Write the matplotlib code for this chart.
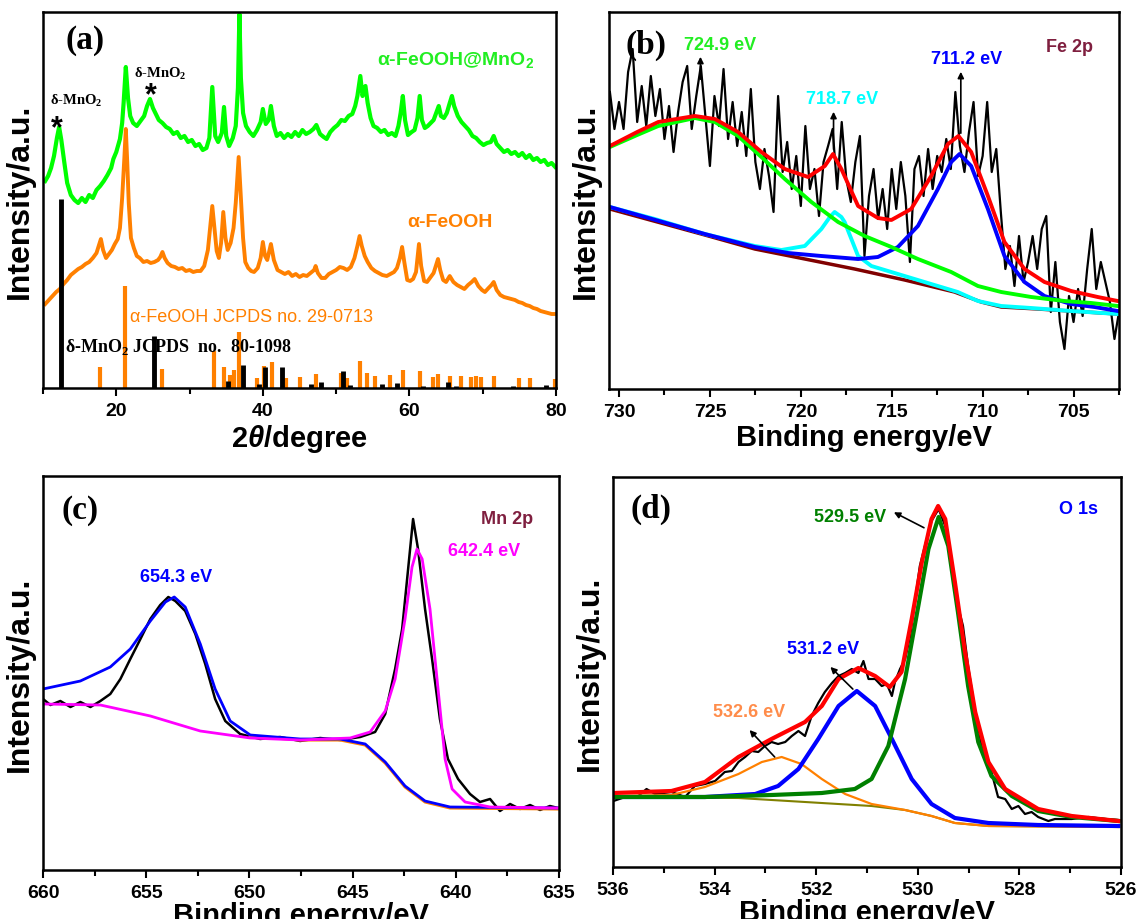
import matplotlib
matplotlib.use("Agg")
import matplotlib.pyplot as plt
from matplotlib.ticker import FixedLocator

plt.rcParams['font.family'] = ['Liberation Sans', 'DejaVu Sans']
plt.rcParams['mathtext.fontset'] = 'custom'
plt.rcParams['mathtext.rm'] = 'Liberation Serif:bold'
plt.rcParams['mathtext.sf'] = 'Liberation Sans:bold'
plt.rcParams['mathtext.it'] = 'Liberation Sans:italic:bold'

# ---------------- (a) XRD ----------------
xrd_mno2 = [
    (10.3, 207), (10.7, 212), (11.1, 220), (11.5, 232), (11.9, 250), (12.2, 261), (12.5, 248),
    (12.9, 226), (13.3, 205), (13.8, 193), (14.3, 188), (14.8, 185), (15.3, 190), (15.8, 186),
    (16.3, 193), (16.8, 190), (17.3, 198), (17.8, 202), (18.3, 207), (18.8, 213), (19.3, 220),
    (19.6, 229), (20.0, 236), (20.5, 249), (20.8, 265), (21.0, 285), (21.3, 321), (21.6, 290),
    (21.9, 272), (22.3, 265), (22.8, 262), (23.3, 267), (23.8, 272), (24.2, 282), (24.6, 289),
    (25.0, 280), (25.4, 274), (25.8, 268), (26.3, 265), (26.8, 261), (27.3, 259), (27.8, 254),
    (28.3, 256), (28.8, 250), (29.3, 252), (29.8, 246), (30.3, 248), (30.8, 242), (31.3, 244),
    (31.8, 238), (32.3, 240), (32.7, 250), (33.1, 301), (33.5, 252), (33.9, 246), (34.4, 255),
    (34.7, 281), (35.0, 252), (35.4, 242), (35.9, 250), (36.3, 262), (36.6, 300), (36.8, 374),
    (37.0, 310), (37.3, 275), (37.7, 262), (38.2, 256), (38.7, 252), (39.2, 258), (39.7, 266),
    (40.0, 279), (40.4, 264), (40.8, 268), (41.1, 282), (41.5, 262), (41.9, 252), (42.4, 255),
    (42.9, 250), (43.4, 254), (43.9, 251), (44.4, 256), (44.9, 252), (45.4, 258), (45.9, 254),
    (46.4, 256), (46.9, 259), (47.3, 263), (47.8, 254), (48.3, 251), (48.7, 249), (49.2, 256),
    (49.7, 260), (50.2, 263), (50.7, 268), (51.2, 267), (51.7, 272), (52.2, 274), (52.6, 282),
    (52.9, 292), (53.3, 312), (53.6, 292), (54.0, 302), (54.3, 285), (54.7, 270), (55.1, 262),
    (55.6, 260), (56.1, 256), (56.6, 258), (57.1, 253), (57.6, 255), (58.1, 252), (58.5, 262),
    (58.8, 275), (59.1, 292), (59.4, 268), (59.8, 253), (60.3, 256), (60.7, 258), (61.1, 270),
    (61.4, 292), (61.7, 268), (62.1, 260), (62.5, 262), (62.9, 265), (63.3, 268), (63.7, 276),
    (64.0, 282), (64.3, 272), (64.7, 270), (65.1, 275), (65.5, 285), (65.8, 292), (66.1, 282),
    (66.6, 272), (67.1, 266), (67.6, 262), (68.1, 258), (68.6, 252), (69.1, 250), (69.6, 246),
    (70.1, 243), (70.6, 245), (71.1, 246), (71.5, 252), (71.9, 244), (72.4, 240), (72.9, 236),
    (73.4, 238), (73.9, 234), (74.4, 236), (74.9, 232), (75.4, 235), (75.9, 230), (76.4, 233),
    (76.9, 228), (77.4, 230), (77.9, 226), (78.4, 228), (78.9, 223), (79.4, 225), (79.9, 221)]
xrd_mno2_x = [p[0] for p in xrd_mno2]
xrd_mno2_y = [p[1] for p in xrd_mno2]

xrd_feooh = [
    (10.3, 84), (10.8, 88), (11.3, 92), (11.8, 96), (12.3, 99), (12.8, 104), (13.3, 108),
    (13.8, 113), (14.3, 116), (14.8, 119), (15.3, 121), (15.8, 124), (16.3, 126), (16.8, 130),
    (17.3, 135), (17.6, 142), (17.9, 149), (18.2, 138), (18.6, 130), (19.0, 134), (19.4, 138),
    (19.8, 144), (20.2, 149), (20.5, 160), (20.8, 190), (21.1, 230), (21.3, 259), (21.5, 225),
    (21.7, 185), (22.0, 150), (22.4, 140), (22.8, 132), (23.2, 130), (23.7, 126), (24.2, 127),
    (24.7, 125), (25.2, 126), (25.7, 128), (26.0, 131), (26.3, 136), (26.6, 130), (27.0, 125),
    (27.5, 122), (28.0, 121), (28.5, 119), (29.0, 120), (29.5, 117), (30.0, 118), (30.5, 116),
    (31.0, 117), (31.5, 117), (32.0, 122), (32.5, 138), (32.8, 160), (33.1, 182), (33.4, 160),
    (33.7, 137), (34.0, 130), (34.3, 145), (34.6, 176), (34.9, 150), (35.2, 138), (35.6, 145),
    (36.0, 160), (36.3, 185), (36.7, 231), (37.0, 190), (37.3, 150), (37.6, 126), (38.0, 120),
    (38.4, 117), (38.8, 116), (39.3, 120), (39.7, 130), (40.0, 146), (40.3, 132), (40.6, 128),
    (41.1, 144), (41.5, 128), (42.0, 118), (42.5, 116), (43.0, 114), (43.5, 116), (44.0, 112),
    (44.5, 114), (45.0, 111), (45.5, 113), (46.0, 112), (46.5, 115), (47.0, 118), (47.2, 122),
    (47.5, 115), (48.0, 110), (48.5, 110), (49.0, 114), (49.5, 116), (50.0, 118), (50.5, 121),
    (51.0, 120), (51.5, 118), (52.0, 121), (52.5, 130), (52.9, 142), (53.2, 152), (53.5, 142),
    (53.9, 132), (54.3, 126), (54.8, 120), (55.3, 117), (55.8, 115), (56.3, 113), (56.9, 112),
    (57.4, 114), (57.9, 116), (58.3, 120), (58.7, 130), (59.0, 141), (59.3, 126), (59.7, 108),
    (60.1, 107), (60.5, 109), (60.9, 116), (61.3, 144), (61.6, 122), (62.0, 107), (62.4, 106),
    (62.8, 110), (63.3, 115), (63.6, 122), (63.9, 129), (64.2, 118), (64.6, 108), (65.0, 106),
    (65.5, 112), (66.0, 106), (66.5, 103), (67.0, 101), (67.5, 99), (68.0, 103), (68.5, 106),
    (68.9, 109), (69.4, 102), (69.9, 98), (70.3, 96), (70.8, 100), (71.2, 103), (71.5, 106),
    (71.9, 98), (72.4, 93), (72.9, 91), (73.4, 90), (73.9, 89), (74.4, 88), (74.9, 86),
    (75.4, 85), (75.9, 83), (76.4, 82), (76.9, 80), (77.4, 79), (77.9, 77), (78.4, 76),
    (78.9, 75), (79.4, 74), (79.9, 74)]
xrd_feooh_x = [p[0] for p in xrd_feooh]
xrd_feooh_y = [p[1] for p in xrd_feooh]

stick_mno2_x = [12.5, 25.2, 35.3, 37.3, 39.5, 40.3, 42.6, 46.6, 47.9, 51.0, 51.9, 56.2, 58.3,
                61.8, 65.3, 66.4, 74.2, 78.7]
stick_mno2_h = [189, 52, 7, 23, 4, 21, 21, 4, 6, 17, 3, 4, 5, 2, 6, 2, 2, 3]

stick_feooh_x = [17.8, 21.2, 26.3, 33.3, 34.7, 35.5, 36.1, 36.7, 39.2, 40.1, 41.2, 43.2, 45.1,
                 47.3, 50.6, 51.5, 53.2, 54.2, 55.3, 57.3, 59.1, 61.4, 63.2, 63.9, 65.6, 67.1,
                 68.4, 69.1, 69.8, 71.5, 75.0, 76.4, 79.8]
stick_feooh_h = [21, 102, 19, 37, 21, 13, 18, 56, 10, 22, 26, 10, 11,
                 14, 15, 10, 27, 15, 12, 13, 18, 17, 11, 14, 12, 12,
                 11, 12, 11, 12, 10, 10, 9]

# ---------------- (b) Fe 2p ----------------
fe_raw_x = [730.5 - 0.25 * i for i in range(113)]
fe_raw_y = [297, 260, 287, 260, 317, 340, 267, 303, 263, 313, 273, 300, 250, 283, 237, 277,
            307, 323, 260, 293, 323, 273, 223, 293, 263, 320, 250, 287, 243, 277, 233, 300,
            227, 200, 240, 213, 177, 293, 217, 247, 200, 233, 183, 263, 200, 220, 173, 227,
            243, 260, 200, 267, 210, 187, 227, 253, 133, 193, 220, 170, 200, 160, 220, 180,
            227, 193, 127, 220, 233, 193, 240, 200, 233, 217, 250, 220, 297, 243, 217, 257,
            287, 213, 233, 287, 217, 240, 177, 120, 143, 103, 153, 107, 127, 153, 120, 160,
            173, 77, 127, 67, 40, 93, 67, 100, 73, 120, 160, 100, 127, 107, 87, 50, 77]

fe_env_x = [730.50, 729.0, 727.84, 725.83, 724.73, 723.45, 722.17, 720.88, 719.6, 718.68, 718.23,
            717.77, 716.85, 715.76, 715.02, 713.93, 712.83, 711.91, 711.33, 710.63, 709.71,
            708.80, 707.70, 706.60, 705.13, 703.67, 702.57]
fe_env_y = [243, 257, 267, 273, 270, 257, 237, 220, 212, 223, 235, 220, 183, 171, 169, 180,
            213, 245, 253, 237, 193, 147, 120, 107, 98, 92, 88]

fe_p1_x = [730.50, 729.0, 727.84, 725.83, 724.73, 723.45, 722.17, 720.88, 719.42, 717.95,
           716.49, 715.02, 713.56, 711.73, 710.26, 708.98, 707.33, 705.5, 704.03, 702.57]
fe_p1_y = [242, 254, 263, 271, 267, 253, 232, 210, 187, 167, 153, 142, 130, 117, 103, 97,
           92, 88, 86, 83]

fe_p2_x = [730.50, 728.03, 725.28, 722.53, 721.07, 719.78, 718.87, 718.4, 718.14, 717.77,
           717.59, 716.85, 716.12, 714.66, 713.2, 711.37, 710.26, 708.98, 707.33, 705.13, 702.57]
fe_p2_y = [182, 170, 155, 143, 139, 143, 160, 172, 177, 172, 167, 133, 123, 115, 107, 97,
           88, 83, 81, 78, 75]

fe_p3_x = [730.50, 725.28, 722.53, 720.70, 718.87, 716.85, 715.76, 714.66, 713.56, 712.46,
           711.73, 711.27, 710.63, 709.71, 708.80, 707.70, 706.60, 705.13, 703.85, 702.57]
fe_p3_y = [182, 155, 142, 136, 133, 130, 132, 142, 163, 200, 227, 235, 223, 180, 133, 107,
           93, 85, 82, 78]

fe_bg_x = [730.50, 725.28, 722.53, 719.78, 717.04, 714.29, 711.55, 710.08, 708.98, 706.96, 702.57]
fe_bg_y = [180, 154, 140, 130, 120, 109, 97, 87, 82, 80, 75]

# ---------------- (c) Mn 2p ----------------
mn_raw_x = [660.0, 659.64, 659.16, 658.67, 658.19, 657.70, 657.22, 656.74, 656.25, 655.77, 655.28,
            654.80, 654.32, 653.93, 653.59, 653.11, 652.62, 652.14, 651.66, 651.17, 650.45,
            649.48, 648.51, 647.54, 646.57, 645.60, 644.63, 643.91, 643.42, 642.94, 642.60,
            642.31, 642.07, 641.83, 641.49, 641.15, 640.77, 640.38, 639.89, 639.31, 638.83,
            638.34, 637.86, 637.37, 636.89, 636.40, 635.92, 635.44, 635.05]
mn_raw_y = [171, 165, 169, 163, 168, 163, 169, 176, 191, 211, 231, 251, 265, 273, 269, 259,
            236, 206, 171, 149, 136, 131, 133, 129, 132, 130, 133, 138, 156, 201, 241, 301,
            351, 321, 261, 211, 151, 111, 91, 76, 68, 71, 59, 66, 61, 65, 60, 64, 62]

mn_p1_x = [660.0, 657.22, 654.80, 652.38, 649.96, 647.54, 645.12, 644.15, 643.42, 642.94,
           642.46, 642.12, 641.88, 641.63, 641.25, 640.86, 640.52, 640.18, 639.55, 638.34, 635.05]
mn_p1_y = [166, 165, 154, 139, 132, 130, 132, 138, 159, 191, 251, 303, 321, 311, 261, 181,
           111, 81, 68, 63, 62]

mn_p2_x = [660.0, 658.19, 656.74, 655.77, 654.80, 654.07, 653.64, 653.11, 652.38, 651.66,
           650.93, 649.96, 647.54, 645.60, 644.39, 643.42, 642.46, 641.49, 640.28, 635.05]
mn_p2_y = [181, 189, 203, 221, 249, 268, 273, 263, 226, 181, 149, 135, 131, 131, 126, 108,
           84, 69, 63, 62]

mn_bg_x = [649.96, 647.54, 645.60, 644.39, 643.42, 642.46, 641.49, 640.28, 635.05]
mn_bg_y = [134, 130, 130, 125, 107, 83, 68, 62, 61]

# ---------------- (d) O 1s ----------------
o_raw_x = [535.99, 535.76, 535.50, 535.34, 535.17, 534.85, 534.58, 534.39, 534.19, 533.99,
           533.80, 533.66, 533.53, 533.40, 533.27, 533.14, 533.01, 532.88, 532.75, 532.61,
           532.48, 532.35, 532.22, 532.09, 531.96, 531.83, 531.69, 531.56, 531.43, 531.30,
           531.17, 531.07, 530.97, 530.84, 530.71, 530.61, 530.51, 530.45, 530.35, 530.25,
           530.15, 530.05, 529.96, 529.86, 529.73, 529.59, 529.46, 529.33, 529.21, 529.11,
           529.01, 528.87, 528.74, 528.55, 528.42, 528.28, 528.15, 528.02, 527.89, 527.76,
           527.63, 527.43, 527.30, 526.97, 526.64, 526.31, 526.05]
o_raw_y = [66, 70, 71, 78, 73, 75, 70, 81, 83, 86, 95, 96, 105, 110, 116, 115, 121, 125, 123,
           125, 131, 136, 131, 151, 164, 175, 184, 191, 194, 198, 194, 206, 188, 188, 181, 183,
           171, 185, 198, 208, 231, 268, 301, 321, 346, 358, 341, 305, 261, 241, 201, 155, 121,
           95, 70, 68, 58, 61, 53, 55, 50, 46, 48, 48, 50, 48, 47]

o_env_x = [535.99, 534.85, 534.19, 533.53, 532.88, 532.22, 531.89, 531.56, 531.17, 530.84,
           530.55, 530.32, 530.12, 529.92, 529.73, 529.60, 529.46, 529.27, 529.07, 528.87,
           528.61, 528.28, 527.63, 526.97, 526.05]
o_env_y = [74, 76, 85, 110, 128, 145, 161, 188, 199, 191, 180, 195, 248, 305, 348, 361, 348,
           285, 215, 155, 105, 78, 58, 51, 46]

o_p1_x = [535.99, 534.19, 532.88, 531.89, 531.24, 530.91, 530.58, 530.25, 529.99, 529.79,
          529.59, 529.40, 529.21, 529.01, 528.81, 528.55, 528.15, 527.63, 526.97, 526.05]
o_p1_y = [70, 70, 72, 74, 78, 88, 121, 188, 261, 318, 350, 321, 255, 181, 125, 91, 71, 56,
          50, 46]

o_p2_x = [535.99, 534.19, 533.20, 532.75, 532.35, 531.96, 531.56, 531.20, 530.84, 530.51,
          530.12, 529.73, 529.27, 528.61, 527.63, 526.05]
o_p2_y = [70, 70, 73, 81, 98, 128, 161, 176, 161, 128, 88, 63, 49, 44, 42, 41]

o_p3_x = [535.99, 534.85, 534.19, 533.53, 533.07, 532.68, 532.29, 531.89, 531.43, 530.91,
          530.25, 529.73, 529.27, 528.61, 526.05]
o_p3_y = [71, 72, 80, 93, 105, 110, 103, 88, 73, 63, 57, 51, 44, 41, 40]

o_bg_x = [535.99, 533.53, 532.22, 530.91, 530.25, 529.73, 529.27, 528.61, 526.05]
o_bg_y = [70, 69, 65, 61, 57, 51, 44, 41, 40]

# ---------------- figure ----------------
W, H = 1140, 920
fig = plt.figure(figsize=(W / 100, H / 100), dpi=100)


def px_axes(l, t, r, b):
    return fig.add_axes([l / W, 1 - b / H, (r - l) / W, (b - t) / H])


axA = px_axes(43, 13, 556, 389)
axB = px_axes(609, 13, 1119, 390)
axC = px_axes(43, 477, 559, 871)
axD = px_axes(613, 478, 1121, 868)

TICK_FS = 14
LAB_FS = 21
YLAB_FS = 23


def style(ax, xlim, ylim, major, minor):
    ax.set_xlim(*xlim)
    ax.set_ylim(*ylim)
    ax.set_yticks([])
    ax.xaxis.set_major_locator(FixedLocator(major))
    ax.xaxis.set_minor_locator(FixedLocator(minor))
    ax.tick_params(axis='x', which='major', direction='out', length=6, width=1.5,
                   labelsize=TICK_FS, pad=4)
    ax.tick_params(axis='x', which='minor', direction='out', length=4, width=1.5)
    for s in ax.spines.values():
        s.set_linewidth(1.8)
    ax.set_ylabel('Intensity/a.u.', fontsize=YLAB_FS, fontweight='bold', labelpad=6)


# (a)
style(axA, (10, 80), (0, 376), [20, 40, 60, 80], [10, 30, 50, 70])
axA.set_xticklabels(['20', '40', '60', '80'], fontweight='bold')
axA.plot(xrd_mno2_x, xrd_mno2_y, color='#00ff00', lw=3.0)
axA.plot(xrd_feooh_x, xrd_feooh_y, color='#ff8000', lw=2.8)
axA.vlines(stick_feooh_x, 0, stick_feooh_h, color='#ff8000', lw=3)
axA.vlines(stick_mno2_x, 0, stick_mno2_h, color='black', lw=3.5)
axA.set_xlabel(r'2$\it{\theta}$/degree', fontsize=LAB_FS, fontweight='bold', labelpad=2)
tA = axA.transAxes
axA.text(0.082, 0.926, '(a)', transform=tA, fontsize=24, fontweight='bold',
         family='Liberation Serif', ha='center', va='center')
axA.text(0.805, 0.875, r'α-FeOOH@MnO$_\mathsf{2}$', transform=tA, fontsize=14,
         fontweight='bold', color='#22ee22', ha='center', va='center')
axA.text(0.793, 0.444, 'α-FeOOH', transform=tA, fontsize=14, fontweight='bold',
         color='#ff8000', ha='center', va='center')
axA.text(0.170, 0.191, 'α-FeOOH JCPDS no. 29-0713', transform=tA, fontsize=13,
         color='#ff8000', ha='left', va='center')
axA.text(0.043, 0.112, r'δ-MnO$_\mathrm{2}$ JCPDS  no.  80-1098', transform=tA, fontsize=13,
         fontweight='bold', family='Liberation Serif', ha='left', va='center')
axA.text(0.064, 0.766, r'δ-MnO$_\mathrm{2}$', transform=tA, fontsize=10.5, fontweight='bold',
         family='Liberation Serif', ha='center', va='center')
axA.text(0.228, 0.838, r'δ-MnO$_\mathrm{2}$', transform=tA, fontsize=10.5, fontweight='bold',
         family='Liberation Serif', ha='center', va='center')
axA.text(0.027, 0.690, '*', transform=tA, fontsize=22, fontweight='bold', ha='center', va='center')
axA.text(0.210, 0.778, '*', transform=tA, fontsize=22, fontweight='bold', ha='center', va='center')

# (b)
style(axB, (730.55, 702.5), (0, 377), [730, 725, 720, 715, 710, 705],
      [727.5, 722.5, 717.5, 712.5, 707.5, 702.5])
axB.set_xticklabels(['730', '725', '720', '715', '710', '705'], fontweight='bold')
axB.plot(fe_raw_x, fe_raw_y, color='black', lw=1.6)
axB.plot(fe_bg_x, fe_bg_y, color='#800000', lw=2.5)
axB.plot(fe_p2_x, fe_p2_y, color='#00ffff', lw=2.8)
axB.plot(fe_p3_x, fe_p3_y, color='#0000ff', lw=2.8)
axB.plot(fe_p1_x, fe_p1_y, color='#00ff00', lw=2.8)
axB.plot(fe_env_x, fe_env_y, color='#ff0000', lw=2.8)
axB.set_xlabel('Binding energy/eV', fontsize=LAB_FS, fontweight='bold', labelpad=2)
arr = dict(arrowstyle='-|>', color='black', lw=1.2, mutation_scale=9)
axB.annotate('', xy=(725.52, 335), xytext=(725.52, 307), arrowprops=arr)
axB.annotate('', xy=(718.2, 280), xytext=(718.2, 237), arrowprops=arr)
axB.annotate('', xy=(711.2, 320), xytext=(711.2, 253), arrowprops=arr)
axB.text(724.45, 344, '724.9 eV', fontsize=13, fontweight='bold', color='#22ee22',
         ha='center', va='center')
axB.text(717.75, 290, '718.7 eV', fontsize=13, fontweight='bold', color='#00ffff',
         ha='center', va='center')
axB.text(710.88, 330, '711.2 eV', fontsize=13, fontweight='bold', color='#0000ff',
         ha='center', va='center')
axB.text(705.2, 342, 'Fe 2p', fontsize=13, fontweight='bold', color='#7f1f3f',
         ha='center', va='center')
axB.text(0.072, 0.915, '(b)', transform=axB.transAxes, fontsize=24, fontweight='bold',
         family='Liberation Serif', ha='center', va='center')

# (c)
style(axC, (660, 635), (0, 394), [660, 655, 650, 645, 640, 635],
      [657.5, 652.5, 647.5, 642.5, 637.5])
axC.set_xticklabels(['660', '655', '650', '645', '640', '635'], fontweight='bold')
axC.plot(mn_raw_x, mn_raw_y, color='black', lw=1.8)
axC.plot(mn_bg_x, mn_bg_y, color='#ff8000', lw=2.2)
axC.plot(mn_p2_x, mn_p2_y, color='#0000ff', lw=2.0)
axC.plot(mn_p1_x, mn_p1_y, color='#ff00ff', lw=2.0)
axC.set_xlabel('Binding energy/eV', fontsize=LAB_FS, fontweight='bold', labelpad=0)
tC = axC.transAxes
axC.text(0.072, 0.916, '(c)', transform=tC, fontsize=24, fontweight='bold',
         family='Liberation Serif', ha='center', va='center')
axC.text(0.899, 0.891, 'Mn 2p', transform=tC, fontsize=13, fontweight='bold',
         color='#7f1f3f', ha='center', va='center')
axC.text(0.257, 0.744, '654.3 eV', transform=tC, fontsize=13, fontweight='bold',
         color='#0000ff', ha='center', va='center')
axC.text(0.855, 0.812, '642.4 eV', transform=tC, fontsize=13, fontweight='bold',
         color='#ff00ff', ha='center', va='center')

# (d)
style(axD, (536, 526), (0, 390), [536, 534, 532, 530, 528, 526],
      [535, 533, 531, 529, 527])
axD.set_xticklabels(['536', '534', '532', '530', '528', '526'], fontweight='bold')
axD.plot(o_raw_x, o_raw_y, color='black', lw=1.6)
axD.plot(o_bg_x, o_bg_y, color='#808000', lw=1.5)
axD.plot(o_p3_x, o_p3_y, color='#ff8000', lw=1.6)
axD.plot(o_p2_x, o_p2_y, color='#0000ff', lw=3.0)
axD.plot(o_p1_x, o_p1_y, color='#008000', lw=3.0)
axD.plot(o_env_x, o_env_y, color='#ff0000', lw=3.0)
axD.set_xlabel('Binding energy/eV', fontsize=LAB_FS, fontweight='bold', labelpad=0)
axD.annotate('', xy=(530.52, 356), xytext=(529.83, 338), arrowprops=arr)
axD.annotate('', xy=(531.76, 202), xytext=(531.24, 176), arrowprops=arr)
axD.annotate('', xy=(533.35, 139), xytext=(532.78, 108), arrowprops=arr)
axD.text(531.34, 351, '529.5 eV', fontsize=13, fontweight='bold', color='#008000',
         ha='center', va='center')
axD.text(531.86, 218, '531.2 eV', fontsize=13, fontweight='bold', color='#0000ff',
         ha='center', va='center')
axD.text(533.32, 155, '532.6 eV', fontsize=13, fontweight='bold', color='#ff8c4a',
         ha='center', va='center')
axD.text(526.83, 358, 'O 1s', fontsize=13, fontweight='bold', color='#0000ff',
         ha='center', va='center')
axD.text(535.25, 359, '(d)', fontsize=24, fontweight='bold', family='Liberation Serif',
         ha='center', va='center')

fig.savefig('out.png', dpi=100)
